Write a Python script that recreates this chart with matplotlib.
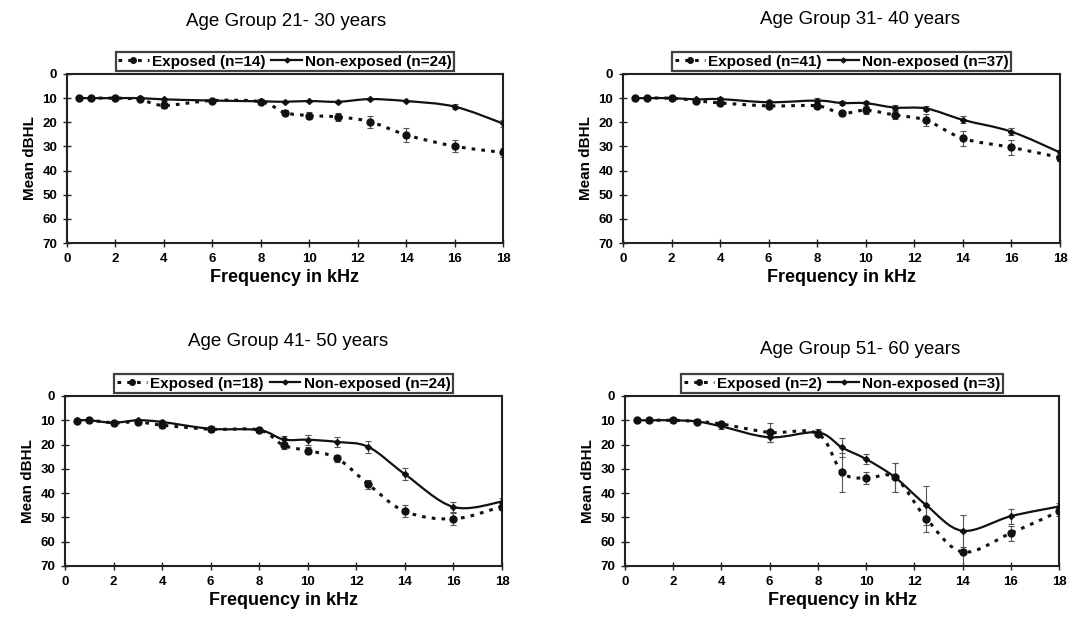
import matplotlib
matplotlib.use("Agg")
import matplotlib.pyplot as plt
import numpy as np
from matplotlib.path import Path
from matplotlib.patches import PathPatch
from matplotlib.lines import Line2D

plt.rcParams['font.family'] = ['Liberation Sans', 'DejaVu Sans']

freq = [0.5, 1, 2, 3, 4, 6, 8, 9, 10, 11.2, 12.5, 14, 16, 18]

titles = ["Age Group 21- 30 years", "Age Group 31- 40 years",
          "Age Group 41- 50 years", "Age Group 51- 60 years"]
n_exposed = [14, 41, 18, 2]
n_nonexposed = [24, 37, 24, 3]

exp_21_30 = [10, 10, 10, 10.5, 13, 11, 11.5, 16, 17.2, 17.8, 19.7, 25.2, 29.9, 32.5]
non_21_30 = [10, 10, 10, 10, 10.5, 11, 11.3, 11.5, 11.2, 11.5, 10.4, 11.2, 13.5, 20.5]
exp_err_21_30 = [0.5, 0.5, 0.5, 0.5, 1, 0.5, 1, 1, 1.5, 1.5, 2.5, 3, 2.5, 2]
non_err_21_30 = [0.5, 0.5, 0.5, 0.5, 0.5, 0.5, 0.5, 0.5, 0.5, 0.5, 0.5, 0.5, 1, 1.5]

exp_31_40 = [10, 10, 10, 11, 12, 13.2, 13.2, 16.3, 15, 17, 19.2, 26.7, 30.4, 34.6]
non_31_40 = [10, 10, 10, 10.5, 10.4, 11.7, 11, 12, 12.1, 13.9, 14.3, 19, 23.9, 32.5]
exp_err_31_40 = [0.5, 0.5, 0.5, 0.5, 1, 1, 1, 1, 1.5, 1.5, 2.5, 3, 3, 1.5]
non_err_31_40 = [0.5, 0.5, 0.5, 0.5, 1, 1, 1, 1, 1, 1, 1, 1.5, 1.5, 1]

exp_41_50 = [10.3, 10, 11, 10.7, 12, 13.7, 14, 20.3, 22.5, 25.6, 36.4, 47.5, 50.6, 45.5]
non_41_50 = [10, 10, 11, 10, 10.7, 13.5, 14, 17.9, 18, 18.9, 21, 32.2, 45.7, 43.5]
exp_err_41_50 = [0.5, 0.5, 0.5, 0.5, 1, 1, 1, 1.5, 1.5, 1.5, 2, 2.5, 2.5, 1.5]
non_err_41_50 = [0.5, 0.5, 0.5, 0.5, 1, 1, 1, 1.5, 2, 2, 2.5, 2.5, 2, 1.5]

exp_51_60 = [10, 10, 10, 10.5, 11.5, 15, 15.5, 31.4, 33.9, 33.5, 50.5, 64.2, 56.5, 47.5]
non_51_60 = [10, 10, 10, 10.5, 12.5, 17, 15, 21.2, 26, 33.5, 45, 55.5, 49.5, 45.5]
exp_err_51_60 = [0.5, 0.5, 0.5, 1, 1, 4, 1, 8, 2.5, 6, 5.5, 8, 3, 2]
non_err_51_60 = [0.5, 0.5, 0.5, 1, 1, 2, 1.5, 4, 2, 6, 8, 6.5, 3, 1.5]

exposed = [exp_21_30, exp_31_40, exp_41_50, exp_51_60]
nonexposed = [non_21_30, non_31_40, non_41_50, non_51_60]
exposed_err = [exp_err_21_30, exp_err_31_40, exp_err_41_50, exp_err_51_60]
nonexposed_err = [non_err_21_30, non_err_31_40, non_err_41_50, non_err_51_60]

W, H = 1073, 622
fig = plt.figure(figsize=(W / 100, H / 100), dpi=100)

# axes boxes in pixels: left, right, top, bottom
boxes = [(67, 503, 74, 243), (623, 1060, 74, 243),
         (65, 502, 396, 566), (625, 1059, 396, 566)]
title_pos = [(286, 21), (860, 20), (288, 342), (860, 350)]


def smooth_path(x, y):
    x = np.asarray(x, float)
    y = np.asarray(y, float)
    n = len(x)
    verts = [(x[0], y[0])]
    codes = [Path.MOVETO]
    for i in range(n - 1):
        i0 = max(i - 1, 0)
        i3 = min(i + 2, n - 1)
        c1 = (x[i] + (x[i + 1] - x[i0]) / 6, y[i] + (y[i + 1] - y[i0]) / 6)
        c2 = (x[i + 1] - (x[i3] - x[i]) / 6, y[i + 1] - (y[i3] - y[i]) / 6)
        verts += [c1, c2, (x[i + 1], y[i + 1])]
        codes += [Path.CURVE4] * 3
    return Path(verts, codes)


dot_style = (0, (1.2, 2.0))
for k in range(4):
    l, r, t, b = boxes[k]
    ax = fig.add_axes([l / W, 1 - b / H, (r - l) / W, (b - t) / H])
    ax.set_xlim(0, 18)
    ax.set_ylim(70, 0)
    ax.set_xticks(range(0, 19, 2))
    ax.set_yticks(range(0, 71, 10))
    ax.tick_params(direction='inout', length=6, width=1, color='#222222',
                   labelsize=9.5, pad=4)
    for lab in ax.get_xticklabels() + ax.get_yticklabels():
        lab.set_fontweight('bold')
    for s in ax.spines.values():
        s.set_linewidth(1.5)
        s.set_color('#222222')

    # error bars
    ax.errorbar(freq, exposed[k], yerr=exposed_err[k], fmt='none',
                ecolor='#555555', elinewidth=0.8, capsize=2, capthick=0.8, zorder=2)
    ax.errorbar(freq, nonexposed[k], yerr=nonexposed_err[k], fmt='none',
                ecolor='#555555', elinewidth=0.8, capsize=2, capthick=0.8, zorder=2)

    # smoothed lines
    ax.add_patch(PathPatch(smooth_path(freq, exposed[k]), facecolor='none',
                           edgecolor='#111111', lw=2.2, linestyle=dot_style,
                           capstyle='butt', zorder=3))
    ax.add_patch(PathPatch(smooth_path(freq, nonexposed[k]), facecolor='none',
                           edgecolor='#111111', lw=1.6, zorder=3))
    ax.plot(freq, exposed[k], linestyle='none', marker='o', ms=5,
            color='#111111', zorder=4)
    ax.plot(freq, nonexposed[k], linestyle='none', marker='D', ms=3,
            color='#111111', zorder=4)

    ax.set_xlabel("Frequency in kHz", fontsize=13, fontweight='bold', labelpad=3)
    ax.set_ylabel("Mean dBHL", fontsize=11, fontweight='bold', labelpad=4)

    h1 = Line2D([], [], color='#111111', lw=2.2, linestyle=dot_style,
                marker='o', ms=4, dash_capstyle='butt')
    h2 = Line2D([], [], color='#111111', lw=1.6, marker='D', ms=2.5)
    gap = 3 / (b - t)
    leg = ax.legend([h1, h2], [f"Exposed (n={n_exposed[k]})",
                               f"Non-exposed (n={n_nonexposed[k]})"],
                    loc='lower center', bbox_to_anchor=(0.5, 1 + gap), ncol=2,
                    frameon=True, fancybox=False, handlelength=2.0,
                    handletextpad=0.2, columnspacing=0.4, borderpad=0.15,
                    borderaxespad=0, prop={'weight': 'bold', 'size': 11})
    leg.get_frame().set_edgecolor('#111111')
    leg.get_frame().set_linewidth(1.6)

    tx, ty = title_pos[k]
    fig.text(tx / W, 1 - ty / H, titles[k], ha='center', va='center',
             fontsize=13.5)

fig.savefig("out.png", dpi=100)
